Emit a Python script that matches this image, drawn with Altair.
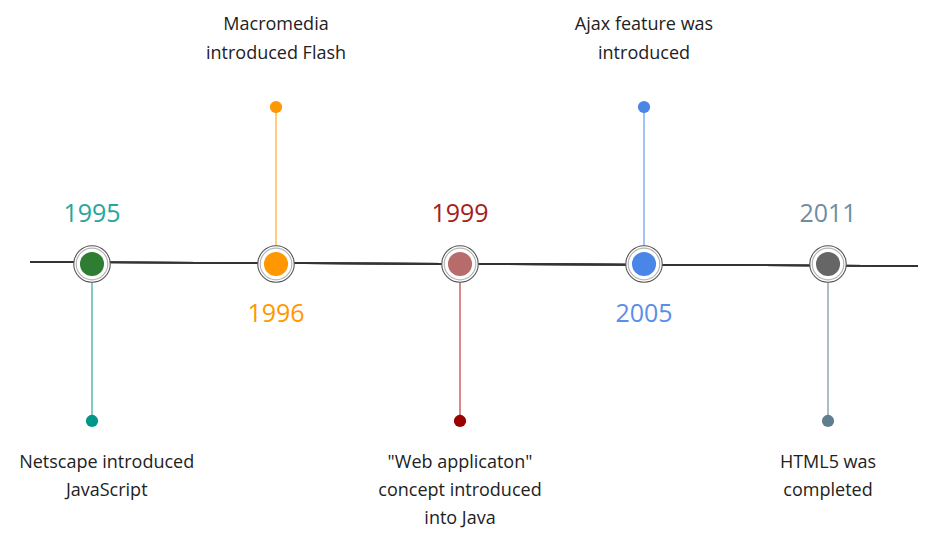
import altair as alt
import pandas as pd

# ---- data ----
years = ["1995", "1996", "1999", "2005", "2011"]
events = [
    ["Netscape introduced", "JavaScript"],
    ["Macromedia", "introduced Flash"],
    ['"Web applicaton"', "concept introduced", "into Java"],
    ["Ajax feature was", "introduced"],
    ["HTML5 was", "completed"],
]
side = [-1, 1, -1, 1, -1]          # +1 = stem goes up, -1 = stem goes down
year_colors = ["#26a69a", "#ff9800", "#a61c1c", "#5a8ee8", "#6f8ea0"]
dot_colors = ["#2e7d32", "#ff9800", "#b86b6b", "#4a86e8", "#666666"]
stem_colors = ["#80cbc4", "#ffcc80", "#d98a86", "#a4c2f4", "#a9bcc8"]
end_colors = ["#009688", "#ff9800", "#990000", "#4a86e8", "#5f7f90"]

# ---- tables built from the arrays ----
YEAR_OFF = 0.32
DESC_TOP = 1.34
DESC_BOT = 1.265
LINE = 0.18
DESC_MIN_X = 0.08   # keep the first caption inside the frame

ev = pd.DataFrame({
    "i": list(range(len(years))),
    "year": years,
    "side": side,
    "ycol": year_colors,
    "dcol": dot_colors,
    "scol": stem_colors,
    "ecol": end_colors,
})
ev["zero"] = 0.0
ev["year_y"] = [-s * YEAR_OFF for s in side]

rows = []
for i, (lines, s) in enumerate(zip(events, side)):
    n = len(lines)
    for k, t in enumerate(lines):
        if s > 0:
            y = DESC_TOP + (n - 1 - k) * LINE
        else:
            y = -(DESC_BOT + k * LINE)
        rows.append({"x": max(i, DESC_MIN_X), "y": y, "t": t})
desc = pd.DataFrame(rows)

X = alt.Scale(domain=[-0.4565, 4.489], nice=False, zero=False)
Y = alt.Scale(domain=[-1.701, 1.631], nice=False, zero=False)
x_enc = alt.X("i:Q", scale=X, axis=None)

base = alt.Chart(ev)

main_line = alt.Chart(ev).mark_rule(color="#333333", strokeWidth=1.6).encode(
    x=alt.value(22), x2=alt.value(910), y=alt.value(254), y2=alt.value(258)
)

stems = base.mark_rule(strokeWidth=2).encode(
    x=x_enc,
    y=alt.Y("zero:Q", scale=Y, axis=None),
    y2="side:Q",
    color=alt.Color("scol:N", scale=None),
)

ends = base.mark_circle(size=150, opacity=1).encode(
    x=x_enc,
    y=alt.Y("side:Q", scale=Y, axis=None),
    color=alt.Color("ecol:N", scale=None),
)

ring_outer = base.mark_point(
    shape="circle", size=1330, filled=True, fill="white",
    stroke="#555555", strokeWidth=1.1, opacity=1
).encode(x=x_enc, y=alt.Y("zero:Q", scale=Y, axis=None))

ring_inner = base.mark_point(
    shape="circle", size=1000, filled=False,
    stroke="#b5b5b5", strokeWidth=1.2, opacity=1
).encode(x=x_enc, y=alt.Y("zero:Q", scale=Y, axis=None))

dots = base.mark_circle(size=580, opacity=1).encode(
    x=x_enc,
    y=alt.Y("zero:Q", scale=Y, axis=None),
    color=alt.Color("dcol:N", scale=None),
)

year_text = base.mark_text(
    font="Open Sans", fontSize=25, baseline="middle", align="center"
).encode(
    x=x_enc,
    y=alt.Y("year_y:Q", scale=Y, axis=None),
    text="year:N",
    color=alt.Color("ycol:N", scale=None),
)

desc_text = alt.Chart(desc).mark_text(
    font="Open Sans", fontSize=18, baseline="middle", align="center", color="#222222"
).encode(
    x=alt.X("x:Q", scale=X, axis=None),
    y=alt.Y("y:Q", scale=Y, axis=None),
    text="t:N",
)

chart = alt.layer(
    main_line, stems, ends, ring_outer, ring_inner, dots, year_text, desc_text
).properties(
    width=910, height=523, padding=0, background="white",
    autosize=alt.AutoSizeParams(type="none"),
).configure_view(stroke=None)

chart.save("out.html", embed_options={"renderer": "svg", "actions": False})
